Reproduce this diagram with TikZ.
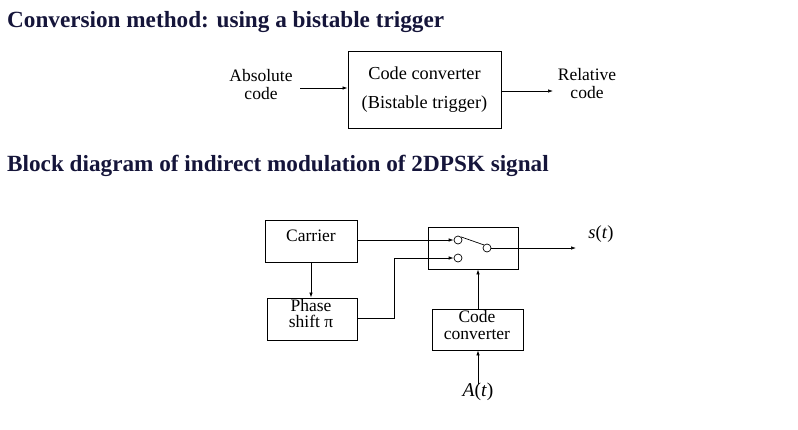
\documentclass[tikz,border=0pt]{standalone}
\usepackage{fontspec}
\setmainfont{Liberation Serif}
\usetikzlibrary{arrows.meta}
\definecolor{navy}{HTML}{15153A}
\begin{document}
\begin{tikzpicture}[x=1pt,y=-1pt,
  box/.style={draw,line width=0.9pt,inner sep=0pt},
  lbl/.style={font=\fontsize{17.5}{18}\selectfont,inner sep=0pt,align=center},
  title/.style={font=\fontsize{23.2}{23}\selectfont\bfseries,text=navy,anchor=base west,inner sep=0pt},
  conn/.style={line width=0.7pt,-{Latex[length=5pt,width=3.5pt]}},
  wire/.style={line width=0.7pt},
  contact/.style={circle,draw,line width=0.7pt,minimum size=8pt,inner sep=0pt}]
\useasboundingbox (0,0) rectangle (798,429);
\node[title] (t1) at (7,27) {Conversion method: using a bistable trigger};
\node[title] (t2) at (7,171) {Block diagram of indirect modulation of 2DPSK signal};
% top diagram
\node[box,minimum width=153pt,minimum height=77pt] (cc1) at (424.5,89.5) {};
\node[lbl,font=\fontsize{18.3}{18}\selectfont] (cc1a) at (424.5,73) {Code converter};
\node[lbl,font=\fontsize{18.3}{18}\selectfont] (cc1b) at (424.5,104) {(Bistable trigger)};
\node[lbl] (abs) at (261,85) {Absolute\\code};
\node[lbl] (rel) at (587,84) {Relative\\code};
\coordinate (absr) at (300,88);
\coordinate (relo) at (553,91);
\draw[conn] (absr) -- (cc1.west |- absr);
\draw[conn] (cc1.east |- relo) -- (relo);
% bottom diagram
\node[box,minimum width=92pt,minimum height=42pt] (car) at (311,241) {};
\node[lbl] (cart) at (311,236) {Carrier};
\node[box,minimum width=90pt,minimum height=42pt] (ps) at (312,319) {};
\node[lbl,font=\fontsize{17.5}{16}\selectfont] (pst) at (311,314) {Phase\\shift π};
\node[box,minimum width=90pt,minimum height=42pt] (sw) at (473,248) {};
\node[box,minimum width=91pt,minimum height=41pt] (cc2) at (477.5,329.5) {};
\node[lbl,font=\fontsize{17.5}{17}\selectfont] (cc2t) at (477,325) {Code\\converter};
\node[contact] (c1) at (458,240) {};
\node[contact] (c2) at (458,258) {};
\node[contact] (c3) at (487,248) {};
\draw[wire] (c1.north east) -- (c3.north west);
\coordinate (sout) at (576,248);
\node[lbl,font=\fontsize{18.5}{18}\selectfont] (st) at (601,234) {\textit{s}(\textit{t})};
\node[lbl,font=\fontsize{19.5}{18}\selectfont] (at) at (478,392) {\textit{A}(\textit{t})};
\coordinate (bend) at (394,318);
\draw[conn] (car.east |- c1) -- (c1.west);
\draw[conn] (ps.east |- bend) -- (bend) |- (c2.west);
\draw[conn] (c3.east) -- (sout);
\draw[conn] (car.south) -- (ps.north -| car.south);
\draw[conn] (cc2.north -| at.north) -- (sw.south -| at.north);
\draw[conn] ([yshift=-1pt]at.north) -- (cc2.south -| at.north);
\end{tikzpicture}
\end{document}
